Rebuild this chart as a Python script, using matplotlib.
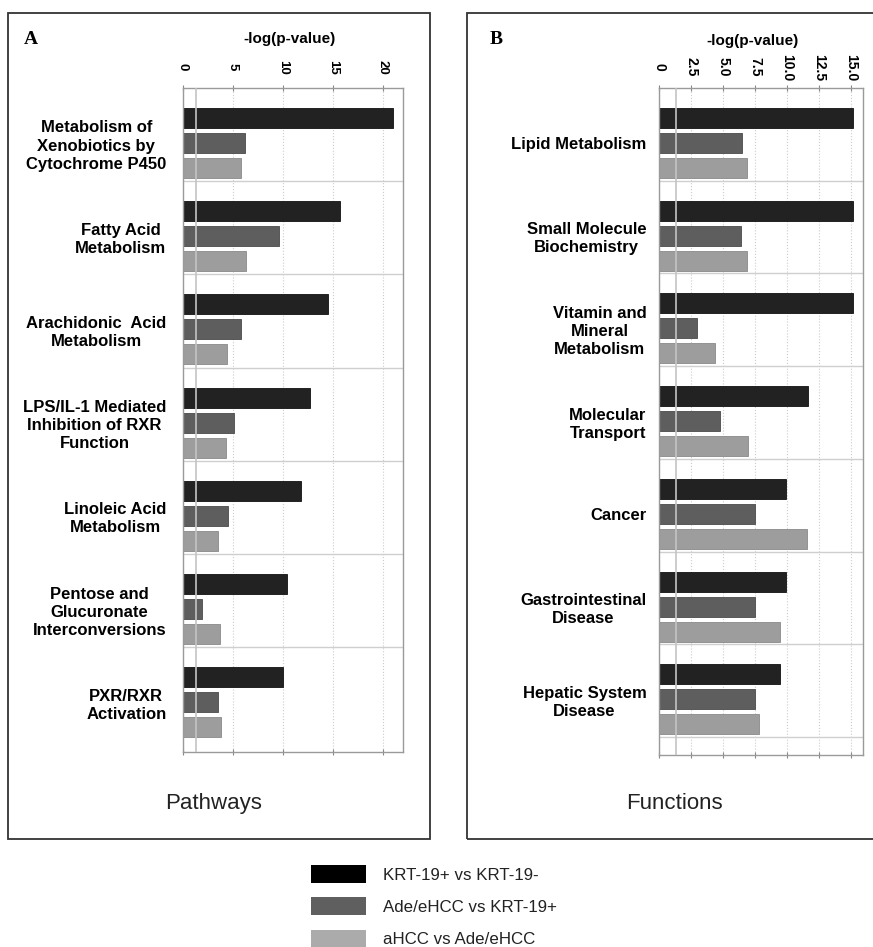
import numpy as np
import matplotlib
matplotlib.use("Agg")
import matplotlib.pyplot as plt
from matplotlib.patches import Rectangle, Patch

plt.rcParams['font.family'] = ['Liberation Sans', 'DejaVu Sans']

# ---------------- data ----------------
pathways = ["Metabolism of\nXenobiotics by\nCytochrome P450",
            "Fatty Acid\nMetabolism",
            "Arachidonic  Acid\nMetabolism",
            "LPS/IL-1 Mediated\nInhibition of RXR\nFunction",
            "Linoleic Acid\nMetabolism",
            "Pentose and\nGlucuronate\nInterconversions",
            "PXR/RXR\nActivation"]
krt_A = [21.0, 15.7, 14.5, 12.7, 11.8, 10.4, 10.0]
ade_A = [6.2, 9.6, 5.8, 5.1, 4.5, 1.9, 3.5]
ahcc_A = [5.8, 6.3, 4.4, 4.3, 3.5, 3.7, 3.8]

functions = ["Lipid Metabolism",
             "Small Molecule\nBiochemistry",
             "Vitamin and\nMineral\nMetabolism",
             "Molecular\nTransport",
             "Cancer",
             "Gastrointestinal\nDisease",
             "Hepatic System\nDisease"]
krt_B = [15.1, 15.1, 15.1, 11.6, 9.9, 9.9, 9.4]
ade_B = [6.45, 6.4, 2.95, 4.75, 7.5, 7.5, 7.5]
ahcc_B = [6.85, 6.85, 4.4, 6.9, 11.5, 9.4, 7.8]

series_names = ["KRT-19+ vs KRT-19-", "Ade/eHCC vs KRT-19+", "aHCC vs Ade/eHCC"]
ticks_A = [0, 5, 10, 15, 20]
ticklabels_A = ["0", "5", "10", "15", "20"]
ticks_B = [0, 2.5, 5.0, 7.5, 10.0, 12.5, 15.0]
ticklabels_B = ["0", "2.5", "5.0", "7.5", "10.0", "12.5", "15.0"]
threshold = 1.3

# ---------------- layout ----------------
W, H = 873, 947
fig = plt.figure(figsize=(W / 100, H / 100), dpi=100)

def fx(px):
    return px / W

def fy(py):
    return 1 - py / H

bar_colors = ['#222222', '#5e5e5e', '#9d9d9d']
edge_colors = ['#111111', '#4a4a4a', '#8a8a8a']
legend_colors = ['#000000', '#5f5f5f', '#ababab']

# panel frames
fig.patches.append(Rectangle((fx(8), fy(839)), fx(430) - fx(8), (839 - 13) / H,
                             transform=fig.transFigure, fill=False,
                             edgecolor='#333333', lw=1.3))
fig.patches.append(Rectangle((fx(467), fy(839)), fx(885) - fx(467), (839 - 13) / H,
                             transform=fig.transFigure, fill=False,
                             edgecolor='#333333', lw=1.3))


def draw_panel(ax, cats, series, xmax, ticks, ticklabels, group_px, n_sep,
               tick_fs, label_pad, xlabel_xy):
    n = len(cats)
    ax_h_px = ax.get_position().height * H
    ymax = ax_h_px / group_px
    off0 = 30 / group_px
    pitch = 25 / group_px
    bh = 20 / group_px
    y = np.arange(n)
    for k, vals in enumerate(series):
        ax.barh(y + off0 + k * pitch, vals, height=bh, color=bar_colors[k],
                edgecolor=edge_colors[k], lw=0.6, zorder=2)
    ax.set_ylim(ymax, 0)
    ax.set_xlim(0, xmax)
    ax.set_yticks(y + off0 + pitch)
    ax.set_yticklabels(cats, fontsize=12, fontweight='bold',
                       multialignment='center', linespacing=1.25)
    ax.tick_params(axis='y', length=0, pad=label_pad)
    for s in range(1, n_sep + 1):
        ax.axhline(s, color='#cfcfcf', lw=1.0, zorder=1)
    ax.axvline(threshold, color='#c4c4c4', lw=1.2, zorder=3)
    ax.set_xticks(ticks)
    ax.set_xticklabels(ticklabels, fontsize=tick_fs, fontweight='bold')
    ax.tick_params(axis='x', top=True, bottom=True, labeltop=True,
                   labelbottom=False, direction='inout', length=4,
                   color='#888888', labelrotation=-90, pad=13)
    for lab in ax.get_xticklabels():
        lab.set_va('center')
    ax.grid(axis='x', linestyle=':', color='#cccccc', lw=0.8, zorder=0)
    ax.set_axisbelow(True)
    for sp in ax.spines.values():
        sp.set_color('#9a9a9a')
        sp.set_linewidth(1.0)
    ax.xaxis.set_label_position('top')
    ax.set_xlabel('-log(p-value)', fontsize=11, fontweight='bold')
    ax.xaxis.set_label_coords(*xlabel_xy)


axA = fig.add_axes([fx(183), fy(752), (403 - 183) / W, (752 - 88) / H])
axB = fig.add_axes([fx(659), fy(755), (863 - 659) / W, (755 - 88) / H])

draw_panel(axA, pathways, [krt_A, ade_A, ahcc_A], 22.0, ticks_A, ticklabels_A,
           93.2, 6, 9.5, 12, (0.486, 1.068))
draw_panel(axB, functions, [krt_B, ade_B, ahcc_B], 15.9, ticks_B, ticklabels_B,
           92.7, 7, 10, 9, (0.456, 1.064))

# panel letters
fig.text(fx(31), fy(39), 'A', fontsize=14, fontweight='bold',
         family=['Liberation Serif', 'DejaVu Serif'], ha='center', va='center')
fig.text(fx(496), fy(39), 'B', fontsize=14, fontweight='bold',
         family=['Liberation Serif', 'DejaVu Serif'], ha='center', va='center')

# panel captions
fig.text(fx(214), fy(803), 'Pathways', fontsize=16, ha='center', va='center',
         color='#222222')
fig.text(fx(674), fy(803), 'Functions', fontsize=16, ha='center', va='center',
         color='#222222')

# legend
handles = [Patch(facecolor=c, edgecolor='none') for c in legend_colors]
fig.legend(handles, series_names, loc='upper left',
           bbox_to_anchor=(fx(311), fy(865)), frameon=False, fontsize=12.2,
           handlelength=3.25, handleheight=1.25, handletextpad=1.0,
           labelspacing=0.85, borderpad=0, borderaxespad=0,
           labelcolor='#222222')

fig.savefig('out.png', dpi=100)
